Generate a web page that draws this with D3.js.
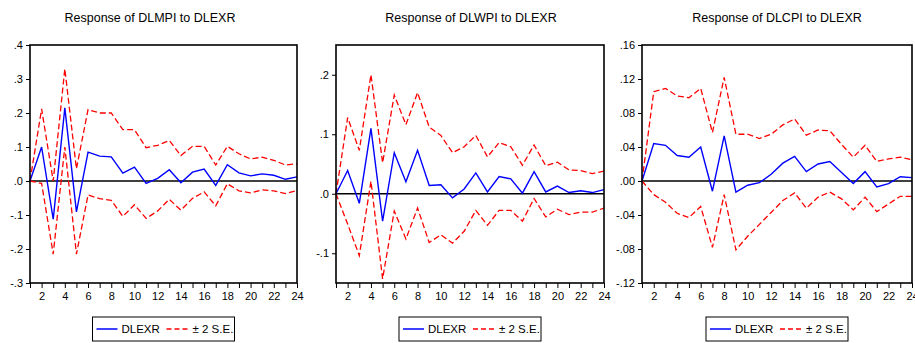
<!DOCTYPE html>
<html>
<head>
<meta charset="utf-8">
<script src="https://cdn.jsdelivr.net/npm/d3@7"></script>
<style>
  body { margin: 0; background: #fff; }
  text { font-family: "Liberation Sans", Arial, sans-serif; }
</style>
</head>
<body>
<div id="chart"></div>
<script>
// periods 1..24
var periods = d3.range(1, 25);

// Response of DLMPI to DLEXR
var mpiResp  = [0, 0.100, -0.112, 0.215, -0.091, 0.085, 0.073, 0.071, 0.023, 0.041, -0.007, 0.008, 0.033, -0.005, 0.026, 0.035, -0.013, 0.048, 0.024, 0.015, 0.021, 0.017, 0.005, 0.012];
var mpiUpper = [0, 0.212, 0.000, 0.330, 0.036, 0.210, 0.200, 0.200, 0.151, 0.151, 0.098, 0.105, 0.119, 0.075, 0.102, 0.102, 0.047, 0.102, 0.080, 0.065, 0.070, 0.061, 0.047, 0.051];
var mpiLower = [0, -0.007, -0.215, 0.100, -0.215, -0.041, -0.052, -0.057, -0.104, -0.070, -0.110, -0.088, -0.054, -0.086, -0.051, -0.032, -0.073, -0.008, -0.029, -0.035, -0.026, -0.029, -0.037, -0.028];

// Response of DLWPI to DLEXR
var wpiResp  = [0, 0.039, -0.016, 0.110, -0.046, 0.069, 0.020, 0.073, 0.014, 0.015, -0.007, 0.008, 0.035, 0.003, 0.029, 0.025, 0.001, 0.037, 0.003, 0.013, 0.002, 0.005, 0.002, 0.007];
var wpiUpper = [0, 0.128, 0.073, 0.200, 0.052, 0.166, 0.116, 0.170, 0.112, 0.098, 0.069, 0.079, 0.098, 0.062, 0.086, 0.079, 0.048, 0.082, 0.047, 0.053, 0.040, 0.039, 0.034, 0.038];
var wpiLower = [0, -0.051, -0.104, 0.021, -0.143, -0.029, -0.076, -0.024, -0.082, -0.069, -0.083, -0.063, -0.028, -0.053, -0.028, -0.028, -0.046, -0.008, -0.039, -0.026, -0.035, -0.031, -0.031, -0.024];

// Response of DLCPI to DLEXR
var cpiResp  = [0, 0.044, 0.042, 0.030, 0.028, 0.040, -0.012, 0.053, -0.013, -0.005, -0.002, 0.008, 0.021, 0.029, 0.011, 0.020, 0.023, 0.010, -0.003, 0.011, -0.007, -0.003, 0.005, 0.004];
var cpiUpper = [0, 0.105, 0.109, 0.100, 0.098, 0.109, 0.057, 0.122, 0.055, 0.055, 0.050, 0.055, 0.066, 0.073, 0.054, 0.060, 0.059, 0.043, 0.028, 0.042, 0.023, 0.026, 0.028, 0.025];
var cpiLower = [0, -0.016, -0.025, -0.038, -0.043, -0.030, -0.078, -0.016, -0.081, -0.065, -0.051, -0.037, -0.023, -0.014, -0.032, -0.019, -0.013, -0.021, -0.034, -0.019, -0.036, -0.027, -0.018, -0.018];

// y ticks per panel
var mpiTicks = [-0.3, -0.2, -0.1, 0, 0.1, 0.2, 0.3, 0.4];
var wpiTicks = [-0.1, 0, 0.1, 0.2];
var cpiTicks = [-0.12, -0.08, -0.04, 0, 0.04, 0.08, 0.12, 0.16];

var xLabels = [2, 4, 6, 8, 10, 12, 14, 16, 18, 20, 22, 24];

var W = 915, H = 343;
var svg = d3.select("#chart").append("svg")
  .attr("width", W).attr("height", H);

var panels = [
  {title: "Response of DLMPI to DLEXR", resp: mpiResp, up: mpiUpper, lo: mpiLower, ticks: mpiTicks, dom: [-0.3, 0.4], dec: 1, x0: 30, x1: 297, tx: 150},
  {title: "Response of DLWPI to DLEXR", resp: wpiResp, up: wpiUpper, lo: wpiLower, ticks: wpiTicks, dom: [-0.15, 0.25], dec: 1, x0: 336, x1: 604, tx: 471},
  {title: "Response of DLCPI to DLEXR", resp: cpiResp, up: cpiUpper, lo: cpiLower, ticks: cpiTicks, dom: [-0.12, 0.16], dec: 2, x0: 642, x1: 912, tx: 777}
];

var plotTop = 45, plotBottom = 283;

panels.forEach(function(p) {
  var g = svg.append("g");

  var x = d3.scaleLinear().domain([1, 24]).range([p.x0, p.x1]);
  var y = d3.scaleLinear().domain(p.dom).range([plotBottom, plotTop]);

  // format like ".4" / "-.04"
  var fmt = function(v) {
    var s = Math.abs(v).toFixed(p.dec).replace(/^0/, "");
    return (v < 0 ? "-" : "") + s;
  };

  // title
  g.append("text")
    .attr("x", p.tx).attr("y", 22)
    .attr("text-anchor", "middle")
    .style("font-size", "12.5px")
    .text(p.title);

  // y axis
  var yAxis = d3.axisLeft(y).tickValues(p.ticks).tickFormat(fmt).tickSize(4).tickSizeOuter(0).tickPadding(3);
  var ga = g.append("g").attr("transform", "translate(" + p.x0 + ",0)").call(yAxis);
  ga.select(".domain").remove();
  ga.selectAll("text").style("font-size", "11px").style("font-family", "Liberation Sans, Arial, sans-serif");
  ga.selectAll("line").attr("stroke", "#000");

  // x axis
  var xAxis = d3.axisBottom(x).tickValues(periods)
    .tickFormat(function(d) { return xLabels.indexOf(d) >= 0 ? d : ""; })
    .tickSize(5).tickSizeOuter(0).tickPadding(4);
  var gx = g.append("g").attr("transform", "translate(0," + plotBottom + ")").call(xAxis);
  gx.select(".domain").remove();
  gx.selectAll("text").style("font-size", "11px").style("font-family", "Liberation Sans, Arial, sans-serif");
  gx.selectAll("line").attr("stroke", "#000");

  // zero line
  g.append("line")
    .attr("x1", p.x0).attr("x2", p.x1)
    .attr("y1", y(0)).attr("y2", y(0))
    .attr("stroke", "#000").attr("stroke-width", 1.3);

  var line = d3.line()
    .x(function(d, i) { return x(periods[i]); })
    .y(function(d) { return y(d); });

  g.append("path").datum(p.up)
    .attr("d", line).attr("fill", "none")
    .attr("stroke", "#ff0000").attr("stroke-width", 1.3)
    .attr("stroke-dasharray", "6,3");
  g.append("path").datum(p.lo)
    .attr("d", line).attr("fill", "none")
    .attr("stroke", "#ff0000").attr("stroke-width", 1.3)
    .attr("stroke-dasharray", "6,3");
  g.append("path").datum(p.resp)
    .attr("d", line).attr("fill", "none")
    .attr("stroke", "#0000ff").attr("stroke-width", 1.4);

  // frame
  g.append("rect")
    .attr("x", p.x0).attr("y", plotTop)
    .attr("width", p.x1 - p.x0).attr("height", plotBottom - plotTop)
    .attr("fill", "none").attr("stroke", "#000").attr("stroke-width", 1.6);

  // legend
  var cx = (p.x0 + p.x1) / 2;
  var lg = g.append("g").attr("transform", "translate(" + (cx - 71) + ",317)");
  lg.append("rect").attr("width", 142).attr("height", 24)
    .attr("fill", "#fff").attr("stroke", "#000").attr("stroke-width", 1);
  lg.append("line").attr("x1", 4).attr("x2", 25).attr("y1", 12).attr("y2", 12)
    .attr("stroke", "#0000ff").attr("stroke-width", 1.5);
  lg.append("text").attr("x", 29).attr("y", 16).style("font-size", "11.5px").text("DLEXR");
  lg.append("line").attr("x1", 74).attr("x2", 98).attr("y1", 12).attr("y2", 12)
    .attr("stroke", "#ff0000").attr("stroke-width", 1.5).attr("stroke-dasharray", "5,3");
  lg.append("text").attr("x", 100).attr("y", 16).style("font-size", "11.5px").text("\u00b1 2 S.E.");
});
</script>
</body>
</html>
